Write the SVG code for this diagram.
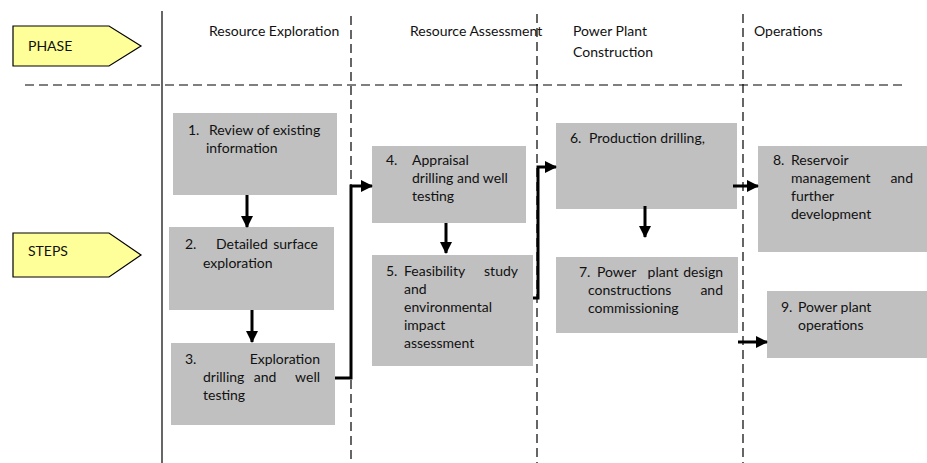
<svg xmlns="http://www.w3.org/2000/svg" width="927" height="463" viewBox="0 0 927 463">
<defs>
<style>
text{font-family:Lato,"Liberation Sans",sans-serif;font-size:14px;fill:#111}
.box{fill:#c0c0c0}
.tag{fill:#ffff99;stroke:#000;stroke-width:1.2}
.dash{stroke:#000;stroke-width:1.2;stroke-dasharray:9,5;fill:none}
.conn{stroke:#000;stroke-width:3;fill:none}
</style>
<marker id="ah" markerUnits="userSpaceOnUse" markerWidth="12" markerHeight="12" viewBox="0 0 12 12" refX="11" refY="6" orient="auto">
<path d="M0,0 L12,6 L0,12 z" fill="#000"/>
</marker>
</defs>
<g id="grid">
<line x1="162" y1="11" x2="162" y2="463" stroke="#000" stroke-width="1.2"/>
<line class="dash" x1="25" y1="85" x2="902" y2="85"/>
<line class="dash" x1="351" y1="16" x2="351" y2="463"/>
<line class="dash" x1="537" y1="14" x2="537" y2="463"/>
<line class="dash" x1="743" y1="14" x2="743" y2="463"/>
</g>
<g id="phase">
<path class="tag" d="M13,26 H109 L141,46 L109,66 H13 z"/>
<text x="28" y="51">PHASE</text>
</g>
<g id="steps">
<path class="tag" d="M13,233 H109 L141,255 L109,277 H13 z"/>
<text x="28" y="256">STEPS</text>
</g>
<g id="phase-labels">
<text x="209" y="36">Resource Exploration</text>
<text x="410" y="36">Resource Assessment</text>
<text x="573" y="36">Power Plant</text>
<text x="573" y="57">Construction</text>
<text x="754" y="36">Operations</text>
</g>
<g id="n1">
<rect class="box" x="173" y="113" width="164" height="82"/>
<text x="188" y="135">1.</text><text x="209" y="135">Review of existing</text>
<text x="206" y="153">information</text>
</g>
<g id="n2">
<rect class="box" x="169" y="227" width="165" height="83"/>
<text x="185" y="249">2.</text><text x="216" y="249">Detailed</text><text x="318" y="249" text-anchor="end">surface</text>
<text x="203" y="268">exploration</text>
</g>
<g id="n3">
<rect class="box" x="171" y="343" width="164" height="82"/>
<text x="185" y="364">3.</text><text x="320" y="364" text-anchor="end">Exploration</text>
<text x="203" y="382">drilling</text><text x="265" y="382" text-anchor="middle">and</text><text x="320" y="382" text-anchor="end">well</text>
<text x="203" y="400">testing</text>
</g>
<g id="n4">
<rect class="box" x="372" y="146" width="154" height="77"/>
<text x="386" y="165">4.</text><text x="412" y="165">Appraisal</text>
<text x="412" y="183">drilling and well</text>
<text x="412" y="201">testing</text>
</g>
<g id="n5">
<rect class="box" x="372" y="255" width="161" height="111"/>
<text x="386" y="276">5.</text><text x="404" y="276">Feasibility</text><text x="518" y="276" text-anchor="end">study</text>
<text x="404" y="294">and</text>
<text x="404" y="312">environmental</text>
<text x="404" y="330">impact</text>
<text x="404" y="348">assessment</text>
</g>
<g id="n6">
<rect class="box" x="556" y="123" width="181" height="86"/>
<text x="570" y="143">6.</text><text x="589" y="143">Production drilling,</text>
</g>
<g id="n7">
<rect class="box" x="556" y="257" width="182" height="76"/>
<text x="579" y="277">7.</text><text x="597" y="277">Power</text><text x="663" y="277" text-anchor="middle">plant</text><text x="723" y="277" text-anchor="end">design</text>
<text x="588" y="295">constructions</text><text x="723" y="295" text-anchor="end">and</text>
<text x="588" y="313">commissioning</text>
</g>
<g id="n8">
<rect class="box" x="758" y="146" width="169" height="106"/>
<text x="773" y="165">8.</text><text x="791" y="165">Reservoir</text>
<text x="791" y="183">management</text><text x="913" y="183" text-anchor="end">and</text>
<text x="791" y="201">further</text>
<text x="791" y="219">development</text>
</g>
<g id="n9">
<rect class="box" x="767" y="291" width="160" height="67"/>
<text x="781" y="312">9.</text><text x="798" y="312">Power plant</text>
<text x="798" y="330">operations</text>
</g>
<g id="connectors">
<line class="conn" x1="247" y1="195" x2="247" y2="227" marker-end="url(#ah)"/>
<line class="conn" x1="252" y1="310" x2="252" y2="342" marker-end="url(#ah)"/>
<polyline class="conn" points="335,378 351,378 351,186 372,186" marker-end="url(#ah)"/>
<line class="conn" x1="446" y1="223" x2="446" y2="253" marker-end="url(#ah)"/>
<polyline class="conn" points="533,298 538,298 538,167 556,167" marker-end="url(#ah)"/>
<line class="conn" x1="645" y1="206" x2="645" y2="237" marker-end="url(#ah)"/>
<line class="conn" x1="733" y1="186" x2="758" y2="186" marker-end="url(#ah)"/>
<line class="conn" x1="738" y1="342" x2="767" y2="342" marker-end="url(#ah)"/>
</g>
</svg>
